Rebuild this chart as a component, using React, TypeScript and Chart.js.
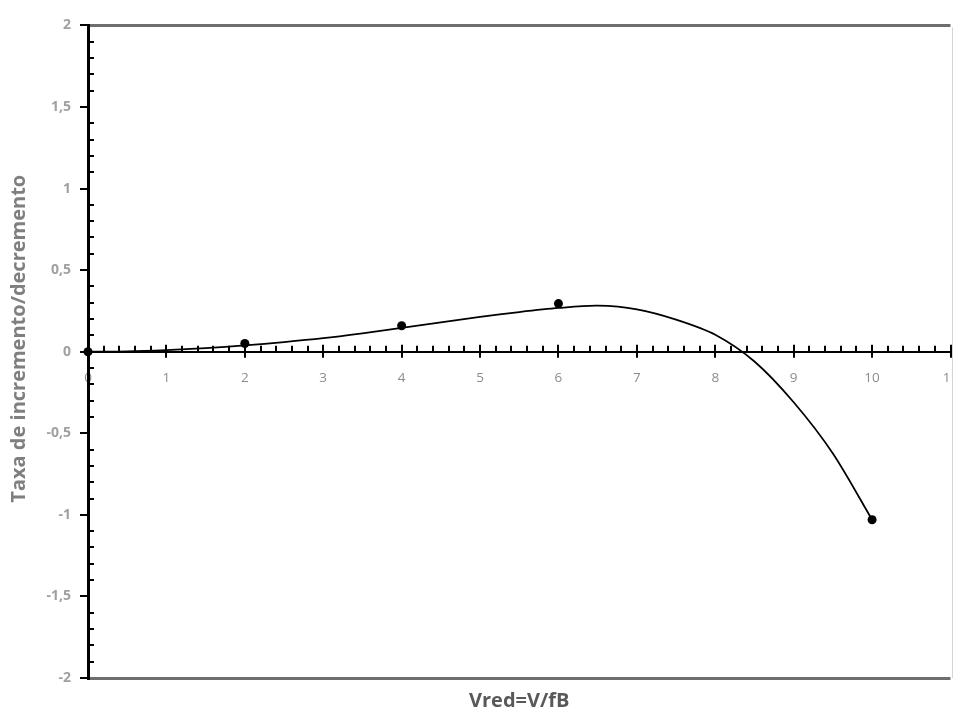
import React, { useEffect, useRef } from "react";
import { Chart, registerables } from "chart.js";

Chart.register(...registerables);

// Measured points
const pointX = [0, 2, 4, 6, 10];
const pointY = [0, 0.05, 0.159, 0.295, -1.03];

// Trendline
const trendX = [0, 0.5, 1, 1.5, 2, 2.5, 3, 3.5, 4, 4.5, 5, 5.5, 6, 6.5, 7, 7.5, 8, 8.5, 9, 9.5, 10];
const trendY = [0, 0.002, 0.01, 0.022, 0.039, 0.059, 0.083, 0.113, 0.146, 0.18, 0.213, 0.243, 0.268, 0.282, 0.26, 0.197, 0.104, -0.06, -0.31, -0.624, -1.03];

const xTickValues = { min: 0, max: 11, step: 1 };
const yTickValues = { min: -2, max: 2, step: 0.5 };

const xTitle = "Vred=V/fB";
const yTitle = "Taxa de incremento/decremento";

const FONT = '"Open Sans", "DejaVu Sans", sans-serif';

const tickPlugin = {
  id: "excelTicks",
  afterDraw(chart: any) {
    const ctx = chart.ctx;
    const xs = chart.scales.x;
    const ys = chart.scales.y;
    const axisX = xs.getPixelForValue(0);
    const axisY = ys.getPixelForValue(0);
    ctx.save();
    ctx.strokeStyle = "#000";
    ctx.lineWidth = 2;
    ctx.beginPath();
    for (let i = Math.round(yTickValues.min * 10); i <= Math.round(yTickValues.max * 10); i++) {
      const py = Math.round(ys.getPixelForValue(i / 10));
      if (i % 5 === 0) {
        ctx.moveTo(axisX - 8, py);
        ctx.lineTo(axisX, py);
      } else {
        ctx.moveTo(axisX, py);
        ctx.lineTo(axisX + 6, py);
      }
    }
    for (let i = 0; i <= xTickValues.max * 5; i++) {
      const px = Math.round(xs.getPixelForValue(i / 5));
      if (i % 5 === 0) {
        ctx.moveTo(px, axisY - 7);
        ctx.lineTo(px, axisY + 6);
      } else {
        ctx.moveTo(px, axisY - 6);
        ctx.lineTo(px, axisY);
      }
    }
    ctx.stroke();
    // light outer frame at right edge
    ctx.strokeStyle = "#d4d4d4";
    ctx.lineWidth = 1;
    ctx.beginPath();
    ctx.moveTo(952.5, chart.chartArea.top + 2);
    ctx.lineTo(952.5, chart.chartArea.bottom);
    ctx.stroke();
    ctx.restore();
  },
};

export default function App() {
  const ref = useRef<HTMLCanvasElement | null>(null);

  useEffect(() => {
    if (!ref.current) return;
    const chart = new Chart(ref.current, {
      type: "scatter",
      data: {
        datasets: [
          {
            label: "pontos",
            data: pointX.map((x, i) => ({ x, y: pointY[i] })),
            showLine: false,
            pointRadius: 4.5,
            pointBackgroundColor: "#000",
            pointBorderColor: "#000",
            pointBorderWidth: 0,
            clip: false,
          },
          {
            label: "tendência",
            data: trendX.map((x, i) => ({ x, y: trendY[i] })),
            showLine: true,
            borderColor: "#000",
            borderWidth: 1.75,
            pointRadius: 0,
            tension: 0.3,
          },
        ],
      },
      options: {
        responsive: false,
        animation: false,
        layout: { padding: { top: 23, left: 0, right: 0, bottom: 0 } },
        plugins: {
          legend: { display: false },
          tooltip: { enabled: false },
          title: {
            display: true,
            text: xTitle,
            position: "bottom",
            fullSize: false,
            color: "#595959",
            font: { family: FONT, size: 20, weight: "bold" },
            padding: { top: 11, bottom: 0 },
          },
        },
        scales: {
          x: {
            type: "linear",
            position: { y: 0 },
            min: xTickValues.min,
            max: xTickValues.max,
            afterFit: (scale: any) => {
              scale.paddingLeft = 0;
              scale.paddingRight = 0;
            },
            ticks: {
              stepSize: xTickValues.step,
              color: "#8c8c8c",
              font: { family: FONT, size: 13.5 },
              padding: 18,
              maxRotation: 0,
            },
            grid: { drawOnChartArea: false, drawTicks: false, color: "rgba(0,0,0,0)" },
            border: { display: true, color: "#000", width: 2 },
          },
          y: {
            type: "linear",
            position: "left",
            min: yTickValues.min,
            max: yTickValues.max,
            afterFit: (scale: any) => {
              scale.width = 88;
            },
            ticks: {
              stepSize: yTickValues.step,
              color: "#a0a0a0",
              font: { family: FONT, size: 14, weight: "bold" },
              padding: 17,
              callback: (v: any) => String(v).replace(".", ","),
            },
            grid: {
              drawTicks: false,
              color: (c: any) =>
                c.tick && (c.tick.value === yTickValues.max || c.tick.value === yTickValues.min)
                  ? "#6e6e6e"
                  : "rgba(0,0,0,0)",
              lineWidth: (c: any) =>
                c.tick && (c.tick.value === yTickValues.max || c.tick.value === yTickValues.min) ? 3 : 0,
            },
            border: { display: true, color: "#000", width: 3 },
            title: {
              display: true,
              text: "     " + yTitle,
              color: "#7f7f7f",
              font: { family: FONT, size: 20, weight: "bold" },
              padding: { top: 7, bottom: 0 },
            },
          },
        },
      },
      plugins: [tickPlugin],
    } as any);
    return () => chart.destroy();
  }, []);

  return (
    <div
      style={{
        position: "fixed",
        left: 0,
        top: 0,
        width: 953,
        height: 713,
        overflow: "hidden",
        background: "#fff",
      }}
    >
      <canvas ref={ref} width={955} height={713} style={{ display: "block" }} />
    </div>
  );
}
